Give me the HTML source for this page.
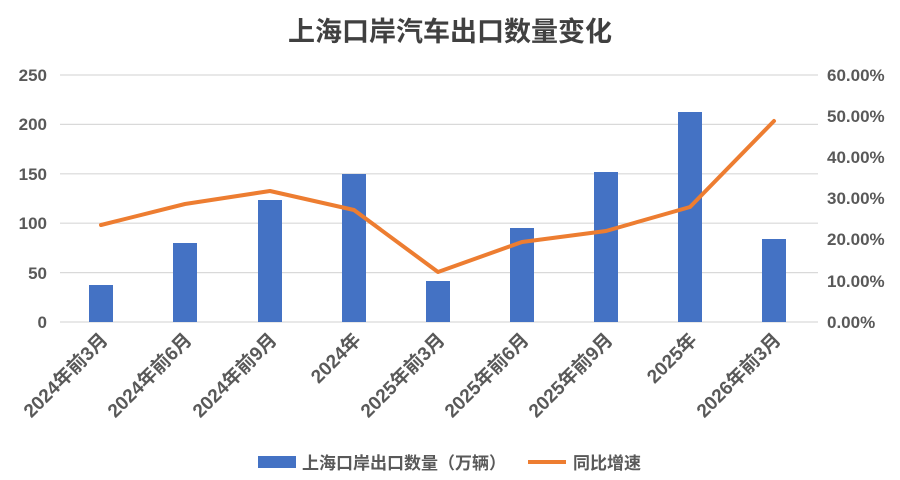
<!DOCTYPE html>
<html><head><meta charset="utf-8"><style>body{margin:0;background:#fff}svg{display:block}text{font-family:"Liberation Sans","Noto Sans CJK SC",sans-serif;font-weight:bold;fill:#595959}</style></head>
<body>
<svg width="900" height="480" viewBox="0 0 900 480">
<text x="450" y="41" text-anchor="middle" font-size="27" style="fill:#404040">上海口岸汽车出口数量变化</text>
<g stroke="#d9d9d9" stroke-width="1.2">
<line x1="60" y1="75" x2="818" y2="75"/><line x1="60" y1="124.4" x2="818" y2="124.4"/><line x1="60" y1="173.8" x2="818" y2="173.8"/><line x1="60" y1="223.2" x2="818" y2="223.2"/><line x1="60" y1="272.6" x2="818" y2="272.6"/><line x1="60" y1="322" x2="818" y2="322"/>
</g>
<g font-size="17" text-anchor="end">
<text x="47" y="81">250</text><text x="47" y="130">200</text><text x="47" y="180">150</text><text x="47" y="229">100</text><text x="47" y="279">50</text><text x="47" y="328">0</text>
</g>
<g font-size="17" text-anchor="start">
<text x="827" y="81">60.00%</text><text x="827" y="122">50.00%</text><text x="827" y="163">40.00%</text><text x="827" y="204">30.00%</text><text x="827" y="245">20.00%</text><text x="827" y="287">10.00%</text><text x="827" y="328">0.00%</text>
</g>
<g fill="#4472c4">
<rect x="89" y="285" width="24" height="37"/>
<rect x="173" y="243" width="24" height="79"/>
<rect x="258" y="200" width="24" height="122"/>
<rect x="342" y="174" width="24" height="148"/>
<rect x="426" y="281" width="24" height="41"/>
<rect x="510" y="228" width="24" height="94"/>
<rect x="594" y="172" width="24" height="150"/>
<rect x="678" y="112" width="24" height="210"/>
<rect x="762" y="239" width="24" height="83"/>
</g>
<polyline fill="none" stroke="#ed7d31" stroke-width="4" stroke-linejoin="round" stroke-linecap="round" points="101,225 185,204 270,191 354,210 438,272 522,242 606,231 690,207 774,121"/>
<g font-size="19" text-anchor="end">
<text transform="translate(109,341) rotate(-45)">2024年前3月</text>
<text transform="translate(193,341) rotate(-45)">2024年前6月</text>
<text transform="translate(278,341) rotate(-45)">2024年前9月</text>
<text transform="translate(362,341) rotate(-45)">2024年</text>
<text transform="translate(446,341) rotate(-45)">2025年前3月</text>
<text transform="translate(530,341) rotate(-45)">2025年前6月</text>
<text transform="translate(614,341) rotate(-45)">2025年前9月</text>
<text transform="translate(698,341) rotate(-45)">2025年</text>
<text transform="translate(782,341) rotate(-45)">2026年前3月</text>
</g>
<rect x="258" y="456" width="38" height="12" fill="#4472c4"/>
<text x="302" y="469" font-size="17">上海口岸出口数量（万辆）</text>
<line x1="528" y1="462" x2="566" y2="462" stroke="#ed7d31" stroke-width="4"/>
<text x="573" y="469" font-size="17">同比增速</text>
</svg>
</body></html>
